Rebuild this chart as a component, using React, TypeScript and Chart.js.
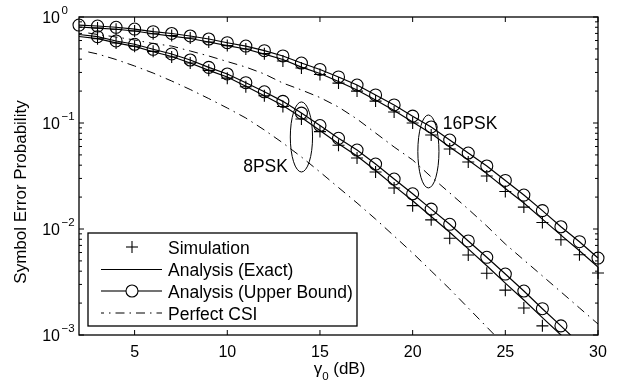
import { useEffect, useRef } from "react";
import { Chart, registerables } from "chart.js";

Chart.register(...registerables);

// ---- data (SNR in dB, symbol error probability) ----
const snrAll = [2, 3, 4, 5, 6, 7, 8, 9, 10, 11, 12, 13, 14, 15, 16, 17, 18, 19, 20, 21, 22, 23, 24, 25, 26, 27, 28, 29, 30];

const ub16 = [0.840, 0.822, 0.800, 0.770, 0.727, 0.699, 0.662, 0.620, 0.572, 0.532, 0.481, 0.429, 0.368, 0.320, 0.272, 0.228, 0.184, 0.148, 0.116, 0.0917, 0.0691, 0.0521, 0.0393, 0.0287, 0.0209, 0.0149, 0.0105, 0.00759, 0.00532];
const exact16 = [0.805, 0.787, 0.766, 0.738, 0.695, 0.661, 0.627, 0.581, 0.537, 0.499, 0.446, 0.397, 0.337, 0.293, 0.246, 0.205, 0.165, 0.131, 0.102, 0.0796, 0.0594, 0.0448, 0.0333, 0.0241, 0.0176, 0.0124, 0.00875, 0.00624, 0.00438];

const sim16X = [3, 4, 5, 6, 7, 8, 9, 10, 11, 12, 13, 14, 15, 16, 17, 18, 19, 20, 21, 22, 23, 24, 25, 26, 27, 28, 29, 30];
const sim16 = [0.787, 0.766, 0.738, 0.695, 0.668, 0.634, 0.581, 0.537, 0.499, 0.451, 0.385, 0.330, 0.287, 0.238, 0.200, 0.161, 0.127, 0.100, 0.0771, 0.0569, 0.0429, 0.0316, 0.0226, 0.0161, 0.0115, 0.00793, 0.00571, 0.00384];

const an8X = [2, 3, 4, 5, 6, 7, 8, 9, 10, 11, 12, 13, 14, 15, 16, 17, 18, 19, 20, 21, 22, 23, 24, 25, 26, 27, 28, 29];
const ub8 = [0.684, 0.652, 0.594, 0.553, 0.496, 0.448, 0.393, 0.335, 0.290, 0.240, 0.197, 0.160, 0.124, 0.0947, 0.0717, 0.0556, 0.0410, 0.0296, 0.0215, 0.0154, 0.01107, 0.00771, 0.00541, 0.00376, 0.00260, 0.00177, 0.00122, 0.00083];
const exact8 = [0.655, 0.624, 0.569, 0.529, 0.470, 0.424, 0.368, 0.314, 0.272, 0.222, 0.181, 0.146, 0.1127, 0.0849, 0.0637, 0.0488, 0.0356, 0.0255, 0.0185, 0.0131, 0.00931, 0.00649, 0.00450, 0.00309, 0.00214, 0.00146, 0.00100, 0.00068];

const sim8X = [3, 4, 5, 6, 7, 8, 9, 10, 11, 12, 13, 14, 15, 16, 17, 18, 19, 20, 21, 22, 23, 24, 25, 26, 27];
const sim8 = [0.624, 0.569, 0.529, 0.474, 0.420, 0.368, 0.314, 0.265, 0.220, 0.181, 0.143, 0.109, 0.0830, 0.0617, 0.0468, 0.0345, 0.0244, 0.0166, 0.0122, 0.00817, 0.00569, 0.00382, 0.00265, 0.00180, 0.00122];

const csi8X = [2.5, 3, 4, 5, 6, 7, 8, 9, 10, 11, 12, 13, 14, 15, 16, 17, 18, 19, 20, 21, 22, 23, 24, 25];
const csi8 = [0.468, 0.448, 0.397, 0.345, 0.296, 0.249, 0.207, 0.170, 0.1385, 0.1115, 0.0859, 0.0648, 0.0478, 0.0345, 0.0246, 0.0176, 0.0124, 0.00859, 0.00594, 0.00402, 0.00272, 0.00180, 0.00119, 0.000787];

const csi16X = [2.5, 3, 4, 5, 6, 7, 8, 9, 10, 11, 12, 13, 14, 15, 16, 17, 18, 19, 20, 21, 22, 23, 24, 25, 26, 27, 28, 29, 30];
const csi16 = [0.706, 0.684, 0.648, 0.607, 0.562, 0.532, 0.478, 0.429, 0.380, 0.337, 0.290, 0.238, 0.205, 0.174, 0.1415, 0.109, 0.0805, 0.0594, 0.0448, 0.0310, 0.0219, 0.0154, 0.01067, 0.00722, 0.00510, 0.00361, 0.00255, 0.00180, 0.00127];

const xTicks = [5, 10, 15, 20, 25, 30];
const yDecades = [-3, -2, -1, 0];
const legendLabels = ["Simulation", "Analysis (Exact)", "Analysis (Upper Bound)", "Perfect CSI"];
const yTitle = "Symbol Error Probability";
const xTitleMain = "γ";
const xTitleSub = "0";
const xTitleUnit = " (dB)";

// annotation ellipses: centre x (dB), half width (dB), top / bottom probability
const groupNames = ["8PSK", "16PSK"];
const ellipseX = [14, 20.85];
const ellipseHalfW = [0.6, 0.57];
const ellipseTop = [0.158, 0.119];
const ellipseBottom = [0.0345, 0.0244];
const labelX = [13.27, 21.63];
const labelY = [0.0345, 0.0878];

const FONT = '"Liberation Sans", Arial, Helvetica, sans-serif';
const DASHDOT = [9, 5, 1.5, 5];

const pts = (xs: number[], ys: number[]) => xs.map((x, i) => ({ x, y: ys[i] }));

const decorPlugin = {
  id: "decor",
  afterDatasetsDraw(chart: any) {
    const { ctx, chartArea: a, scales } = chart;
    const xs = scales.x;
    const ys = scales.y;
    ctx.save();
    ctx.strokeStyle = "#000";
    ctx.fillStyle = "#000";

    // ellipses + group labels
    ctx.lineWidth = 1;
    ctx.setLineDash([]);
    for (let i = 0; i < groupNames.length; i++) {
      const cx = xs.getPixelForValue(ellipseX[i]);
      const rx = xs.getPixelForValue(ellipseX[i] + ellipseHalfW[i]) - cx;
      const t = ys.getPixelForValue(ellipseTop[i]);
      const b = ys.getPixelForValue(ellipseBottom[i]);
      ctx.beginPath();
      ctx.ellipse(cx, (t + b) / 2, rx, (b - t) / 2, 0, 0, Math.PI * 2);
      ctx.stroke();
      ctx.font = `17.5px ${FONT}`;
      ctx.textBaseline = "alphabetic";
      ctx.textAlign = i === 0 ? "right" : "left";
      ctx.fillText(groupNames[i], xs.getPixelForValue(labelX[i]), ys.getPixelForValue(labelY[i]));
    }

    // frame
    ctx.lineWidth = 1.3;
    ctx.strokeRect(a.left, a.top, a.right - a.left, a.bottom - a.top);

    const seg = (x1: number, y1: number, x2: number, y2: number) => {
      ctx.beginPath();
      ctx.moveTo(x1, y1);
      ctx.lineTo(x2, y2);
      ctx.stroke();
    };

    // x ticks
    ctx.lineWidth = 1;
    ctx.font = `16px ${FONT}`;
    ctx.textAlign = "center";
    ctx.textBaseline = "alphabetic";
    xTicks.forEach((v) => {
      const px = xs.getPixelForValue(v);
      seg(px, a.bottom, px, a.bottom - 5);
      seg(px, a.top, px, a.top + 5);
      ctx.fillText(String(v), px, a.bottom + 22);
    });

    // y ticks
    yDecades.forEach((d) => {
      const py = ys.getPixelForValue(Math.pow(10, d));
      seg(a.left, py, a.left + 5, py);
      seg(a.right, py, a.right - 5, py);
      if (d < 0) {
        for (let m = 2; m <= 9; m++) {
          const pm = ys.getPixelForValue(m * Math.pow(10, d));
          seg(a.left, pm, a.left + 3, pm);
          seg(a.right, pm, a.right - 3, pm);
        }
      }
      ctx.font = `16px ${FONT}`;
      ctx.textAlign = "right";
      ctx.textBaseline = "middle";
      ctx.fillText("10", 60, py + 2);
      ctx.font = `11.5px ${FONT}`;
      ctx.textAlign = "left";
      ctx.textBaseline = "alphabetic";
      ctx.fillText(d === 0 ? "0" : "−" + String(-d), 61.5, py - 3);
    });

    // axis titles
    ctx.font = `17px ${FONT}`;
    ctx.textAlign = "center";
    ctx.textBaseline = "alphabetic";
    ctx.save();
    ctx.translate(26, (a.top + a.bottom) / 2 + 16);
    ctx.rotate(-Math.PI / 2);
    ctx.fillText(yTitle, 0, 0);
    ctx.restore();

    ctx.textAlign = "left";
    ctx.font = `17px ${FONT}`;
    const wMain = ctx.measureText(xTitleMain).width;
    const wUnit = ctx.measureText(xTitleUnit).width;
    ctx.font = `11.5px ${FONT}`;
    const wSub = ctx.measureText(xTitleSub).width;
    const total = wMain + wSub + wUnit;
    let tx = (a.left + a.right) / 2 + 1 - total / 2;
    ctx.font = `17px ${FONT}`;
    ctx.fillText(xTitleMain, tx, 374);
    tx += wMain;
    ctx.font = `11.5px ${FONT}`;
    ctx.fillText(xTitleSub, tx, 380);
    tx += wSub;
    ctx.font = `17px ${FONT}`;
    ctx.fillText(xTitleUnit, tx, 374);

    // legend
    const lx = 88, ly = 233, lw = 269, lh = 93;
    ctx.fillStyle = "#fff";
    ctx.fillRect(lx, ly, lw, lh);
    ctx.fillStyle = "#000";
    ctx.lineWidth = 1.3;
    ctx.strokeRect(lx, ly, lw, lh);
    const rowY = [247, 269.5, 291, 313];
    const x1 = 101, x2 = 162, xm = 132;
    ctx.lineWidth = 1.1;
    // simulation plus
    seg(xm - 6, rowY[0], xm + 6, rowY[0]);
    seg(xm, rowY[0] - 6, xm, rowY[0] + 6);
    // exact line
    seg(x1, rowY[1], x2, rowY[1]);
    // upper bound
    seg(x1, rowY[2], xm - 6, rowY[2]);
    seg(xm + 6, rowY[2], x2, rowY[2]);
    ctx.beginPath();
    ctx.arc(xm, rowY[2], 6, 0, Math.PI * 2);
    ctx.stroke();
    // perfect csi
    ctx.setLineDash(DASHDOT);
    ctx.lineDashOffset = 6;
    seg(x1, rowY[3], x2, rowY[3]);
    ctx.setLineDash([]);
    ctx.font = `17.5px ${FONT}`;
    ctx.textAlign = "left";
    ctx.textBaseline = "alphabetic";
    legendLabels.forEach((s, i) => ctx.fillText(s, 168, rowY[i] + 6.5));

    ctx.restore();
  },
};

export default function App() {
  const ref = useRef<HTMLCanvasElement | null>(null);
  useEffect(() => {
    document.body.style.margin = "0";
    const canvas = ref.current;
    if (!canvas) return;
    const lineBase = {
      borderColor: "#000",
      backgroundColor: "rgba(0,0,0,0)",
      borderWidth: 1.2,
      tension: 0,
      pointRadius: 0,
      fill: false,
    };
    const chart = new Chart(canvas, {
      type: "line",
      data: {
        datasets: [
          { ...lineBase, label: "csi8", data: pts(csi8X, csi8), borderDash: DASHDOT, borderWidth: 1 },
          { ...lineBase, label: "csi16", data: pts(csi16X, csi16), borderDash: DASHDOT, borderWidth: 1 },
          { ...lineBase, label: "exact8", data: pts(an8X, exact8) },
          { ...lineBase, label: "exact16", data: pts(snrAll, exact16) },
          {
            ...lineBase,
            label: "ub8",
            data: pts(an8X, ub8),
            pointStyle: "circle",
            pointRadius: (c: any) => {
              const x = an8X[c.dataIndex];
              return x >= 3 && x <= 28 ? 6 : 0;
            },
            pointBorderColor: "#000",
            pointBackgroundColor: "rgba(0,0,0,0)",
            pointBorderWidth: 1.1,
          },
          {
            ...lineBase,
            label: "ub16",
            data: pts(snrAll, ub16),
            pointStyle: "circle",
            pointRadius: 6,
            pointBorderColor: "#000",
            pointBackgroundColor: "rgba(0,0,0,0)",
            pointBorderWidth: 1.1,
            clip: false,
          },
          {
            ...lineBase,
            label: "sim8",
            data: pts(sim8X, sim8),
            showLine: false,
            pointStyle: "cross",
            pointRadius: 6,
            pointBorderColor: "#000",
            pointBorderWidth: 1.1,
          },
          {
            ...lineBase,
            label: "sim16",
            data: pts(sim16X, sim16),
            showLine: false,
            pointStyle: "cross",
            pointRadius: 6,
            pointBorderColor: "#000",
            pointBorderWidth: 1.1,
            clip: false,
          },
        ],
      },
      options: {
        responsive: false,
        animation: false,
        layout: { padding: { left: 79, right: 25, top: 17, bottom: 53 } },
        plugins: { legend: { display: false }, tooltip: { enabled: false } },
        scales: {
          x: { type: "linear", min: 2, max: 30, display: false },
          y: { type: "logarithmic", min: 0.001, max: 1, display: false },
        },
      },
      plugins: [decorPlugin],
    } as any);
    return () => chart.destroy();
  }, []);
  return <canvas ref={ref} width={623} height={388} style={{ display: "block", background: "#fff" }} />;
}
